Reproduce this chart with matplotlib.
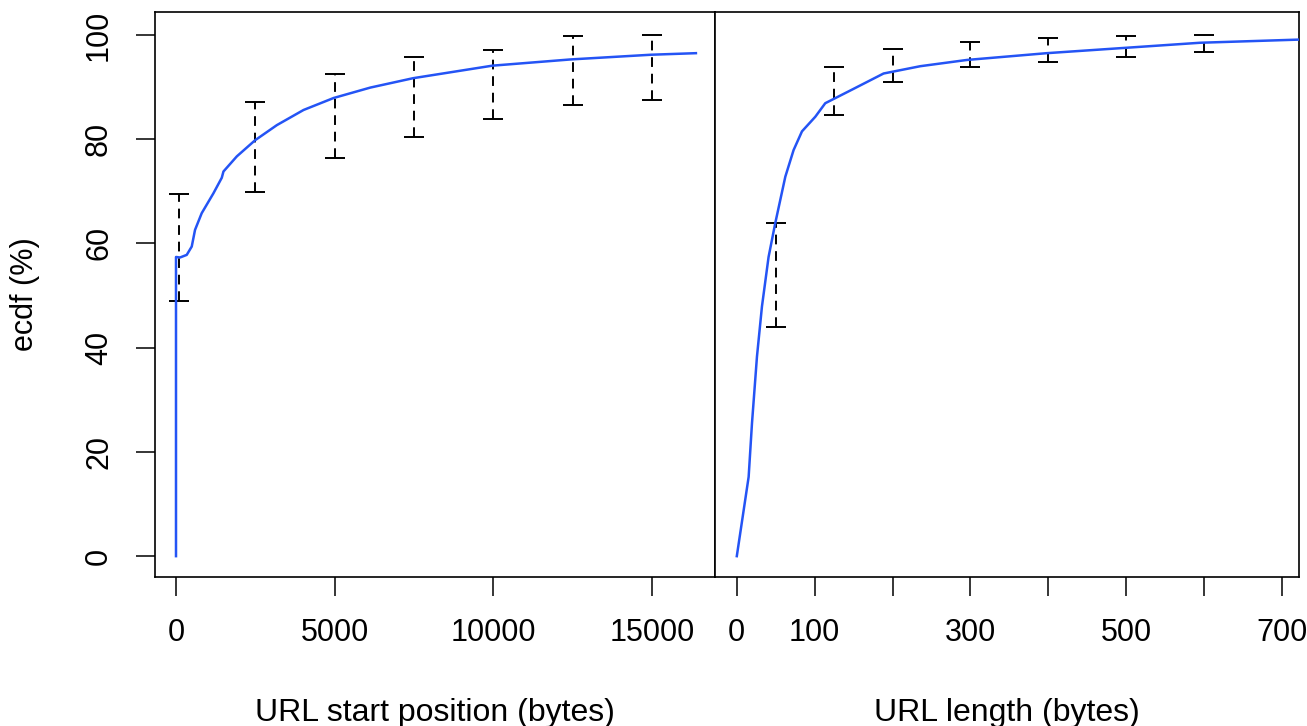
import matplotlib.pyplot as plt
from matplotlib.ticker import FixedLocator

# ecdf of URL start position (bytes)
start_x = [0, 0, 126, 338, 496, 600, 810, 1178, 1443, 1496, 1917, 2494,
           3180, 4020, 4968, 6126, 7474, 9968, 12441, 14967, 16388]
start_y = [0, 57.4, 57.3, 57.8, 59.4, 62.6, 65.8, 69.6, 72.6, 73.8, 76.7,
           79.8, 82.7, 85.6, 87.9, 89.9, 91.7, 94.1, 95.3, 96.2, 96.5]
start_bar_x = [100, 2500, 5000, 7500, 10000, 12500, 15000]
start_bar_lo = [48.9, 69.8, 76.3, 80.5, 83.8, 86.6, 87.5]
start_bar_hi = [69.5, 87.2, 92.6, 95.7, 97.1, 99.8, 100.0]

# ecdf of URL length (bytes)
len_x = [0, 15.2, 19.5, 25.9, 32.3, 40.8, 49.4, 62.3, 72.9, 83.7, 100.8,
         113.6, 147.9, 188.5, 235.6, 295.5, 398, 496.5, 595, 721]
len_y = [0, 15.2, 25.5, 38.3, 47.9, 57.4, 63.9, 72.8, 77.9, 81.5, 84.3,
         86.9, 89.5, 92.6, 94.0, 95.2, 96.5, 97.5, 98.5, 99.1]
len_bar_x = [50, 125, 200, 300, 400, 500, 600]
len_bar_lo = [44.0, 84.6, 91.0, 93.8, 94.9, 95.8, 96.7]
len_bar_hi = [63.9, 93.9, 97.3, 98.6, 99.5, 99.8, 99.9]

plt.rcParams["font.family"] = ["Liberation Sans", "DejaVu Sans"]
plt.rcParams["font.size"] = 22

W, H = 1307, 726
fig = plt.figure(figsize=(W / 100, H / 100), dpi=100)
ax1 = fig.add_axes([155 / W, 1 - 577 / H, 560 / W, 565 / H])
ax2 = fig.add_axes([715 / W, 1 - 577 / H, 584 / W, 565 / H])

blue = "#2454f5"


def draw_panel(ax, x, y, bx, lo, hi):
    ax.plot(x, y, color=blue, lw=1.8, zorder=3)
    mid = [(a + b) / 2 for a, b in zip(lo, hi)]
    err = [(b - a) / 2 for a, b in zip(lo, hi)]
    eb = ax.errorbar(bx, mid, yerr=err, fmt="none", ecolor="black",
                     elinewidth=1.4, capsize=7, capthick=1.4, zorder=2)
    eb[2][0].set_linestyle((0, (5, 3.5)))
    ax.set_ylim(-4, 104.4)
    for s in ax.spines.values():
        s.set_linewidth(1.2)
    ax.tick_params(direction="out", length=13.5, width=1.1, pad=16)


draw_panel(ax1, start_x, start_y, start_bar_x, start_bar_lo, start_bar_hi)
ax1.set_xlim(-662, 16990)
ax1.set_xticks([0, 5000, 10000, 15000])
ax1.set_yticks([0, 20, 40, 60, 80, 100])
ax1.set_yticklabels(["0", "20", "40", "60", "80", "100"], rotation=90,
                    va="center")
ax1.set_xlabel("URL start position (bytes)", labelpad=36, fontsize=23)
ax1.set_ylabel("ecdf (%)", labelpad=32)

draw_panel(ax2, len_x, len_y, len_bar_x, len_bar_lo, len_bar_hi)
ax2.set_xlim(-28, 722)
ax2.xaxis.set_major_locator(FixedLocator([0, 100, 200, 300, 400, 500, 600, 700]))
ax2.set_xticklabels(["0", "100", "", "300", "", "500", "", "700"])
ax2.set_yticks([])
ax2.set_xlabel("URL length (bytes)", labelpad=36, fontsize=23)

fig.savefig("out.png", dpi=100)
